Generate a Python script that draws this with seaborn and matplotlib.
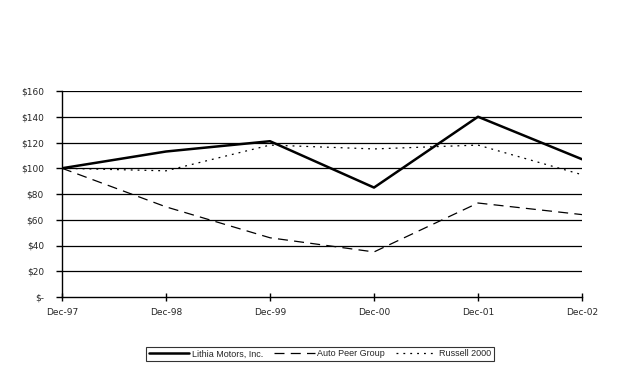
import matplotlib
matplotlib.use("Agg")
import matplotlib.pyplot as plt
import seaborn as sns
import pandas as pd

periods = ["Dec-97", "Dec-98", "Dec-99", "Dec-00", "Dec-01", "Dec-02"]
lithia = [100, 113, 121, 85, 140, 107]
auto_peer = [100, 70, 46, 35, 73, 64]
russell = [100, 98, 118, 115, 118, 95]
y_ticks = [0, 20, 40, 60, 80, 100, 120, 140, 160]
y_labels = ["$-", "$20", "$40", "$60", "$80", "$100", "$120", "$140", "$160"]

sns.set_theme(style="white")
plt.rcParams["font.family"] = ["DejaVu Sans"]

df = pd.DataFrame({
    "period": periods * 3,
    "x": list(range(len(periods))) * 3,
    "value": lithia + auto_peer + russell,
    "series": ["Lithia Motors, Inc."] * 6 + ["Auto Peer Group"] * 6 + ["Russell 2000"] * 6,
})

fig = plt.figure(figsize=(6.17, 3.70), dpi=100)
ax = fig.add_axes([62 / 617, 1 - 297 / 370, (582 - 62) / 617, (297 - 91) / 370])

styles = {
    "Lithia Motors, Inc.": dict(lw=1.8, ls="-"),
    "Auto Peer Group": dict(lw=0.9, ls=(0, (8, 5))),
    "Russell 2000": dict(lw=0.9, ls=(0, (1.5, 4))),
}
for name in ["Lithia Motors, Inc.", "Auto Peer Group", "Russell 2000"]:
    sub = df[df["series"] == name]
    sns.lineplot(data=sub, x="x", y="value", ax=ax, color="black",
                 label=name, linewidth=styles[name]["lw"],
                 linestyle=styles[name]["ls"], legend=False)

ax.set_xlim(0, len(periods) - 1)
ax.set_ylim(0, 160)
ax.set_yticks(y_ticks)
ax.set_yticklabels(y_labels, fontsize=6.5)
ax.set_xticks(range(len(periods)))
ax.set_xticklabels(periods, fontsize=6.5)
ax.set_xlabel("")
ax.set_ylabel("")
for yv in y_ticks[1:]:
    ax.axhline(yv, color="black", lw=0.9, zorder=0)
for s in ["left", "bottom"]:
    ax.spines[s].set_visible(True)
    ax.spines[s].set_color("black")
    ax.spines[s].set_linewidth(1.0)
for s in ["top", "right"]:
    ax.spines[s].set_visible(False)
ax.tick_params(axis="y", direction="out", length=4, width=1, color="black", pad=9, left=True)
ax.tick_params(axis="x", direction="inout", length=6, width=1, color="black", pad=5, bottom=True)
ax.grid(False)

handles, labels = ax.get_legend_handles_labels()
leg = fig.legend(handles, labels, loc="center", bbox_to_anchor=(320 / 617, 1 - 354 / 370),
                 ncol=3, prop={"family": "Liberation Sans", "size": 6.5},
                 frameon=True, fancybox=False, edgecolor="black",
                 handlelength=4.5, handletextpad=0.3, columnspacing=1.2,
                 borderpad=0.25, borderaxespad=0)
leg.get_frame().set_linewidth(0.8)

fig.savefig("out.png", dpi=100, facecolor="white")
